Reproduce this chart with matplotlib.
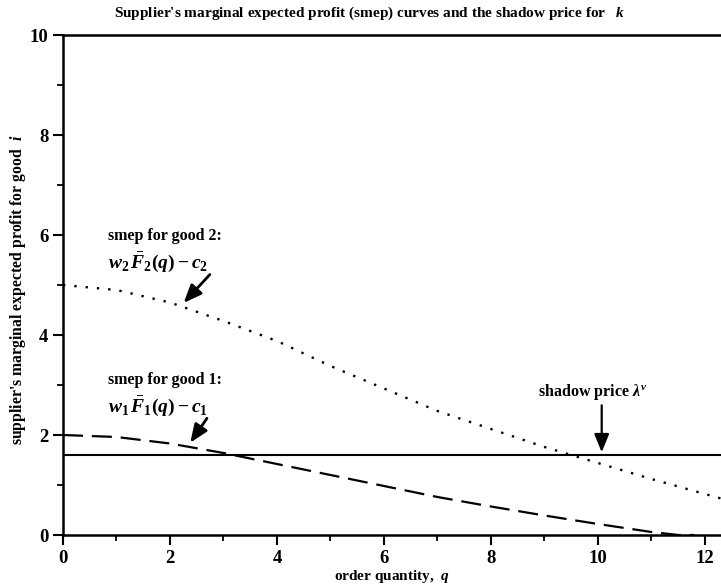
import matplotlib
matplotlib.use("Agg")
import matplotlib.pyplot as plt
import numpy as np

plt.rcParams['font.family'] = ['Liberation Serif', 'DejaVu Serif']
plt.rcParams['font.weight'] = 'bold'
plt.rcParams['mathtext.fontset'] = 'custom'
plt.rcParams['mathtext.rm'] = 'Liberation Serif:bold'
plt.rcParams['mathtext.it'] = 'Liberation Serif:italic:bold'
plt.rcParams['mathtext.bf'] = 'Liberation Serif:bold'

# data
q_good2 = [0, 1, 2, 3, 4, 5, 6, 7, 8, 9, 10, 11, 12, 12.3]
smep_good2 = [5.0, 4.9, 4.65, 4.28, 3.88, 3.38, 2.93, 2.48, 2.12, 1.76, 1.44, 1.12, 0.82, 0.73]
q_good1 = [0, 1, 2, 3, 4, 5, 6, 7, 8, 9, 10, 11, 11.5, 11.8]
smep_good1 = [2.0, 1.96, 1.83, 1.64, 1.42, 1.2, 0.98, 0.76, 0.57, 0.39, 0.22, 0.06, 0.0, 0.0]
shadow_price = 1.6

fig = plt.figure(figsize=(7.21, 5.87), dpi=100)
ax = fig.add_axes([63/721, 1-535/587, 1-63/721, (535-35)/587])

ax.plot(q_good2, smep_good2, color='black', linestyle=(0, (1, 3.8)), linewidth=1.7)
ax.plot(q_good1, smep_good1, color='black', linestyle=(0, (9, 4)), linewidth=1.6)
ax.axhline(shadow_price, color='black', linewidth=1.5)

ax.set_xlim(0, 12.3)
ax.set_ylim(0, 10)
ax.set_xticks([0, 2, 4, 6, 8, 10, 12])
ax.set_xticks([1, 3, 5, 7, 9, 11], minor=True)
ax.set_yticks([0, 2, 4, 6, 8, 10])
ax.set_yticks([1, 3, 5, 7, 9], minor=True)
ax.tick_params(axis='both', which='major', direction='out', length=7, width=1.5, labelsize=13.5)
ax.tick_params(axis='both', which='minor', direction='out', length=4, width=1.3)
for lab in ax.get_xticklabels() + ax.get_yticklabels():
    lab.set_fontweight('bold')
ax.spines['right'].set_visible(False)
for s in ['left', 'bottom', 'top']:
    ax.spines[s].set_linewidth(1.8)

ax.set_xlabel(r"order quantity,  $q$", fontsize=11, fontweight='bold', labelpad=1)
ax.set_ylabel(r"supplier's marginal expected profit for good  $i$", fontsize=11.3, fontweight='bold')
ax.yaxis.set_label_coords(-0.053, 0.49)
fig.text(0.513, 1-13/587, r"Supplier's marginal expected profit (smep) curves and the shadow price for   $k$",
         ha='center', va='center', fontsize=11, fontweight='bold')

ax.text(0.85, 5.98, "smep for good 2:", fontsize=11.5, fontweight='bold', ha='left', va='center')
ax.text(0.85, 5.45, r"$w_2\,\bar{F}_2(q) - c_2$", fontsize=14, ha='left', va='center')
ax.annotate("", xy=(2.22, 4.6), xytext=(2.78, 5.25),
            arrowprops=dict(arrowstyle='-|>,head_length=1.1,head_width=0.45', color='black', lw=2))

ax.text(0.85, 3.1, "smep for good 1:", fontsize=11.5, fontweight='bold', ha='left', va='center')
ax.text(0.85, 2.58, r"$w_1\,\bar{F}_1(q) - c_1$", fontsize=14, ha='left', va='center')
ax.annotate("", xy=(2.35, 1.8), xytext=(2.72, 2.38),
            arrowprops=dict(arrowstyle='-|>,head_length=1.1,head_width=0.45', color='black', lw=2))

ax.text(9.9, 2.86, r"shadow price $\lambda^v$", fontsize=11.5, fontweight='bold', ha='center', va='center')
ax.annotate("", xy=(10.07, shadow_price), xytext=(10.07, 2.65),
            arrowprops=dict(arrowstyle='-|>,head_length=1.1,head_width=0.45', color='black', lw=1.6))

fig.savefig("out.png", dpi=100)
